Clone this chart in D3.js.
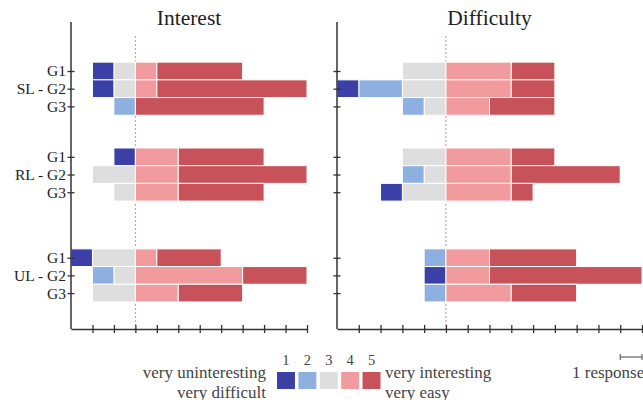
<!DOCTYPE html>
<html>
<head>
<meta charset="utf-8">
<script src="https://cdn.jsdelivr.net/npm/d3@7"></script>
<style>
  html, body { margin: 0; padding: 0; background: #fff; }
  svg { display: block; font-family: "Liberation Serif", "Times New Roman", Times, serif; }
  svg text { font-family: "Liberation Serif", "Times New Roman", Times, serif; }
</style>
</head>
<body>
<svg id="chart" width="643" height="400"></svg>
<script>
// ---------- data ----------
const groups = ["SL", "RL", "UL"];
const subgroups = ["G1", "G2", "G3"];
const ratings = [1, 2, 3, 4, 5];
const panelTitles = ["Interest", "Difficulty"];
const legendLeft = ["very uninteresting", "very difficult"];
const legendRight = ["very interesting", "very easy"];
const scaleLabel = "1 response";

// counts of responses per rating [1,2,3,4,5], rows: SL G1..G3, RL G1..G3, UL G1..G3
const interest = [
  [1, 0, 1, 1, 4],
  [1, 0, 1, 1, 7],
  [0, 1, 0, 0, 6],
  [1, 0, 0, 2, 4],
  [0, 0, 2, 2, 6],
  [0, 0, 1, 2, 4],
  [1, 0, 2, 1, 3],
  [0, 1, 1, 5, 3],
  [0, 0, 2, 2, 3]
];
const difficulty = [
  [0, 0, 2, 3, 2],
  [1, 2, 2, 3, 2],
  [0, 1, 1, 2, 3],
  [0, 0, 2, 3, 2],
  [0, 1, 1, 3, 5],
  [1, 0, 2, 3, 1],
  [0, 1, 0, 2, 4],
  [1, 0, 0, 2, 7],
  [0, 1, 0, 3, 3]
];
const colors = ["#3b40a6", "#8db0e0", "#dedede", "#f29b9f", "#c8525a"];

// ---------- layout ----------
const svg = d3.select("#chart");
const groupStart = [0, 4.85, 10.55];           // row offsets of each group (layout)
const rowIndex = (g, s) => groupStart[g] + s;
const y = d3.scaleLinear().domain([0, 12.55]).range([71, 293.1]);
const rowH = (y(1) - y(0));
const axisTop = 22, axisBottom = 329;

const panels = [
  { data: interest, x: d3.scaleLinear().domain([-3, 8]).range([71, 307]), labels: true },
  { data: difficulty, x: d3.scaleLinear().domain([-5, 9]).range([337, 642]), labels: false }
];

// build segment list: 3 -> 2 -> 1 stack left from 0, 4 -> 5 stack right from 0
function segments(row) {
  const segs = [];
  let neg = 0;
  [2, 1, 0].forEach(k => {
    if (row[k] > 0) { segs.push({ k, x0: neg - row[k], x1: neg }); }
    neg -= row[k];
  });
  let pos = 0;
  [3, 4].forEach(k => {
    if (row[k] > 0) { segs.push({ k, x0: pos, x1: pos + row[k] }); }
    pos += row[k];
  });
  return segs;
}

panels.forEach((p, pi) => {
  const x = p.x;
  const g = svg.append("g");

  // title
  g.append("text")
    .attr("x", (x.range()[0] + x.range()[1]) / 2)
    .attr("y", 25)
    .attr("text-anchor", "middle")
    .attr("font-size", 21.5)
    .attr("fill", "#222")
    .text(panelTitles[pi]);

  // zero line
  g.append("line")
    .attr("x1", x(0)).attr("x2", x(0))
    .attr("y1", 36).attr("y2", axisBottom)
    .attr("stroke", "#e58a8e").attr("stroke-width", 1)
    .attr("stroke-dasharray", "2,2");

  // bars
  groups.forEach((grp, gi) => {
    subgroups.forEach((sg, si) => {
      const row = p.data[gi * 3 + si];
      const cy = y(rowIndex(gi, si));
      g.selectAll(null)
        .data(segments(row))
        .enter().append("rect")
        .attr("x", d => x(d.x0))
        .attr("width", d => x(d.x1) - x(d.x0))
        .attr("y", cy - rowH / 2)
        .attr("height", rowH)
        .attr("fill", d => colors[d.k])
        .attr("stroke", "#fff")
        .attr("stroke-width", 1);
    });
  });

  // vertical axis line
  const x0 = x.range()[0];
  g.append("line")
    .attr("x1", x0).attr("x2", x0)
    .attr("y1", axisTop).attr("y2", axisBottom)
    .attr("stroke", "#333").attr("stroke-width", 1.5);

  // y axis ticks & labels
  const rows = [];
  groups.forEach((grp, gi) => subgroups.forEach((sg, si) => {
    rows.push({ idx: rowIndex(gi, si), label: si === 1 ? grp + " - " + sg : sg });
  }));
  const yAxis = d3.axisLeft(y)
    .tickValues(rows.map(r => r.idx))
    .tickFormat((d, i) => p.labels ? rows[i].label : "")
    .tickSizeOuter(0).tickSizeInner(4).tickPadding(1);
  const ya = g.append("g").attr("transform", `translate(${x0},0)`).call(yAxis);
  ya.select(".domain").remove();
  ya.selectAll(".tick line").attr("x1", -3.5).attr("x2", 3.5).attr("stroke", "#333").attr("stroke-width", 1.3);
  ya.selectAll(".tick text").attr("font-size", 15.5).attr("fill", "#222")
    .attr("font-family", "Liberation Serif, Times New Roman, serif");

  // x axis
  const xAxis = d3.axisBottom(x)
    .tickValues(d3.range(x.domain()[0] + 1, x.domain()[1] + 1))
    .tickFormat("")
    .tickSizeOuter(0);
  const xa = g.append("g").attr("transform", `translate(0,${axisBottom})`).call(xAxis);
  xa.select(".domain").attr("stroke", "#333").attr("stroke-width", 1.5);
  xa.selectAll(".tick line").attr("y1", -4).attr("y2", 4).attr("stroke", "#333").attr("stroke-width", 1.3);
});

// ---------- legend ----------
const lg = svg.append("g");
const lx = d3.scaleBand().domain(ratings).range([277, 380.5]).paddingInner(0.16);
lg.selectAll("rect").data(ratings).enter().append("rect")
  .attr("x", d => lx(d)).attr("y", 372)
  .attr("width", lx.bandwidth()).attr("height", 17)
  .attr("fill", (d, i) => colors[i]);
lg.selectAll("text.num").data(ratings).enter().append("text")
  .attr("class", "num")
  .attr("x", d => lx(d) + lx.bandwidth() / 2).attr("y", 365)
  .attr("text-anchor", "middle").attr("font-size", 14.5).attr("fill", "#444")
  .text(d => d);
legendLeft.forEach((t, i) => {
  lg.append("text").attr("x", 266).attr("y", 378 + i * 19.5)
    .attr("text-anchor", "end").attr("font-size", 17).attr("fill", "#444").text(t);
});
legendRight.forEach((t, i) => {
  lg.append("text").attr("x", 385).attr("y", 378 + i * 19.5)
    .attr("text-anchor", "start").attr("font-size", 17).attr("fill", "#444").text(t);
});

// scale bar: 1 response
const xr = panels[1].x;
const sbY = 357, sbX0 = xr(8), sbX1 = xr(9);
lg.append("line").attr("x1", sbX0).attr("x2", sbX1).attr("y1", sbY).attr("y2", sbY)
  .attr("stroke", "#444").attr("stroke-width", 1);
[sbX0, sbX1].forEach(v => lg.append("line").attr("x1", v).attr("x2", v)
  .attr("y1", sbY - 3).attr("y2", sbY + 3).attr("stroke", "#444").attr("stroke-width", 1));
lg.append("text").attr("x", 572).attr("y", 378)
  .attr("font-size", 17).attr("fill", "#444").text(scaleLabel);
</script>
</body>
</html>
